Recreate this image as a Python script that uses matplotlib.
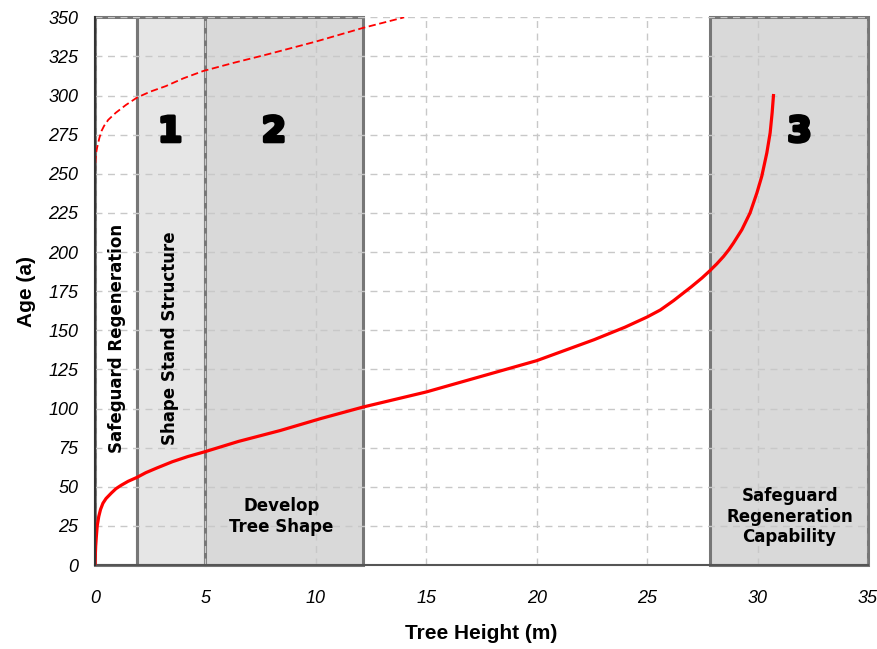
import matplotlib
matplotlib.use("Agg")
import matplotlib.pyplot as plt
from matplotlib.patches import Rectangle
import matplotlib.patheffects as pe

# ---- data ----
height_solid = [0, 0.01, 0.03, 0.06, 0.1, 0.17, 0.25, 0.36, 0.5, 0.74, 0.95, 1.19, 1.5,
                1.9, 2.3, 2.8, 3.5, 4.2, 5.0, 6.5, 8.4, 10.2, 12.15, 15, 17.5,
                20, 22.6, 24, 25, 25.6, 26.2, 27.0, 27.48, 27.82, 28.15, 28.46, 28.7,
                28.91, 29.29, 29.66, 29.97, 30.19, 30.42, 30.57, 30.66, 30.72]
age_solid = [0, 5, 12, 18, 25, 31, 35.5, 39.5, 42.5, 46, 48.8, 51, 53.5,
             56, 59, 62, 66, 69.3, 72.5, 79, 86, 93.5, 101, 110.6, 120.6,
             130.6, 144, 152, 158.5, 163, 169, 177.8, 183.4, 187.8, 192.4, 197.2, 201.5,
             205.8, 214.3, 225, 237.8, 248.4, 263.4, 276.2, 289, 300]

height_dashed = [0, 0.01, 0.03, 0.06, 0.1, 0.2, 0.3, 0.41, 0.6, 0.94, 1.4, 1.9,
                 2.5, 3.2, 4.0, 4.9, 6.3, 7.8, 10.0, 12.15, 14.0]
age_dashed = [250, 255, 260, 264, 267, 273, 277.5, 280.6, 284.5, 289, 294, 298.7,
              302.5, 306, 311, 315.7, 321, 326.3, 334.5, 343.3, 350]

# phases: (start, end, fill colour)
phase_starts = [0, 1.9, 5.0, 27.85]
phase_ends = [1.9, 5.0, 12.15, 35]
phase_colors = ["#ffffff", "#e6e6e6", "#d9d9d9", "#d9d9d9"]

numbers = ["1", "2", "3"]
number_x = [3.4, 8.1, 31.9]
number_y = [277, 277, 277]

x_ticks = [0, 5, 10, 15, 20, 25, 30, 35]
y_ticks = list(range(0, 351, 25))

fig = plt.figure(figsize=(8.78, 6.49), dpi=100)
ax = fig.add_axes([0.1082, 0.1294, 0.8804, 0.8439])
ax.set_xlim(0, 35)
ax.set_ylim(0, 350)

label_font = ["DejaVu Sans"]

for s, e, c in zip(phase_starts, phase_ends, phase_colors):
    ax.add_patch(Rectangle((s, 0), e - s, 350, facecolor=c, edgecolor="#777777",
                           linewidth=2.2, zorder=0.2, clip_on=False))

ax.set_axisbelow(True)
ax.grid(True, color="#c8c8c8", linestyle=(0, (5, 4)), linewidth=1.0)

ax.plot(height_solid, age_solid, color="#ff0000", linewidth=2.3, zorder=3,
        solid_joinstyle="round")
ax.plot(height_dashed, age_dashed, color="#ff0000", linewidth=1.3,
        linestyle=(0, (4, 2)), zorder=3)

for t, xx, yy in zip(numbers, number_x, number_y):
    ax.text(xx, yy, t, fontsize=25, fontweight="bold", family=label_font,
            ha="center", va="center", zorder=4,
            path_effects=[pe.withStroke(linewidth=2.5, foreground="black")])

common = dict(fontsize=12, fontweight="bold", family=label_font,
              ha="center", va="center", zorder=4)
ax.text(1.0, 145, "Safeguard Regeneration", rotation=90, **common)
ax.text(3.4, 145, "Shape Stand Structure", rotation=90, **common)
ax.text(8.45, 31, "Develop\nTree Shape", linespacing=1.25, **common)
ax.text(31.45, 31, "Safeguard\nRegeneration\nCapability", linespacing=1.2, **common)

ax.set_xticks(x_ticks)
ax.set_yticks(y_ticks)
ax.tick_params(length=0, labelsize=13)
for lab in ax.get_xticklabels() + ax.get_yticklabels():
    lab.set_fontstyle("italic")
    lab.set_family(["Liberation Sans", "DejaVu Sans"])
ax.tick_params(axis="x", pad=18)
ax.tick_params(axis="y", pad=12)

ax.set_xlabel("Tree Height (m)", fontsize=15, fontweight="bold",
              family=["Liberation Sans Narrow", "Liberation Sans", "DejaVu Sans"],
              labelpad=12)
ax.set_ylabel("Age (a)", fontsize=15, fontweight="bold",
              family=["Liberation Sans Narrow", "Liberation Sans", "DejaVu Sans"],
              labelpad=9)

for side in ["top", "right"]:
    ax.spines[side].set_visible(False)
ax.spines["left"].set_color("#333333")
ax.spines["left"].set_linewidth(1.5)
ax.spines["bottom"].set_color("#555555")
ax.spines["bottom"].set_linewidth(1.5)
ax.spines["left"].set_zorder(5)

fig.savefig("out.png", dpi=100)
